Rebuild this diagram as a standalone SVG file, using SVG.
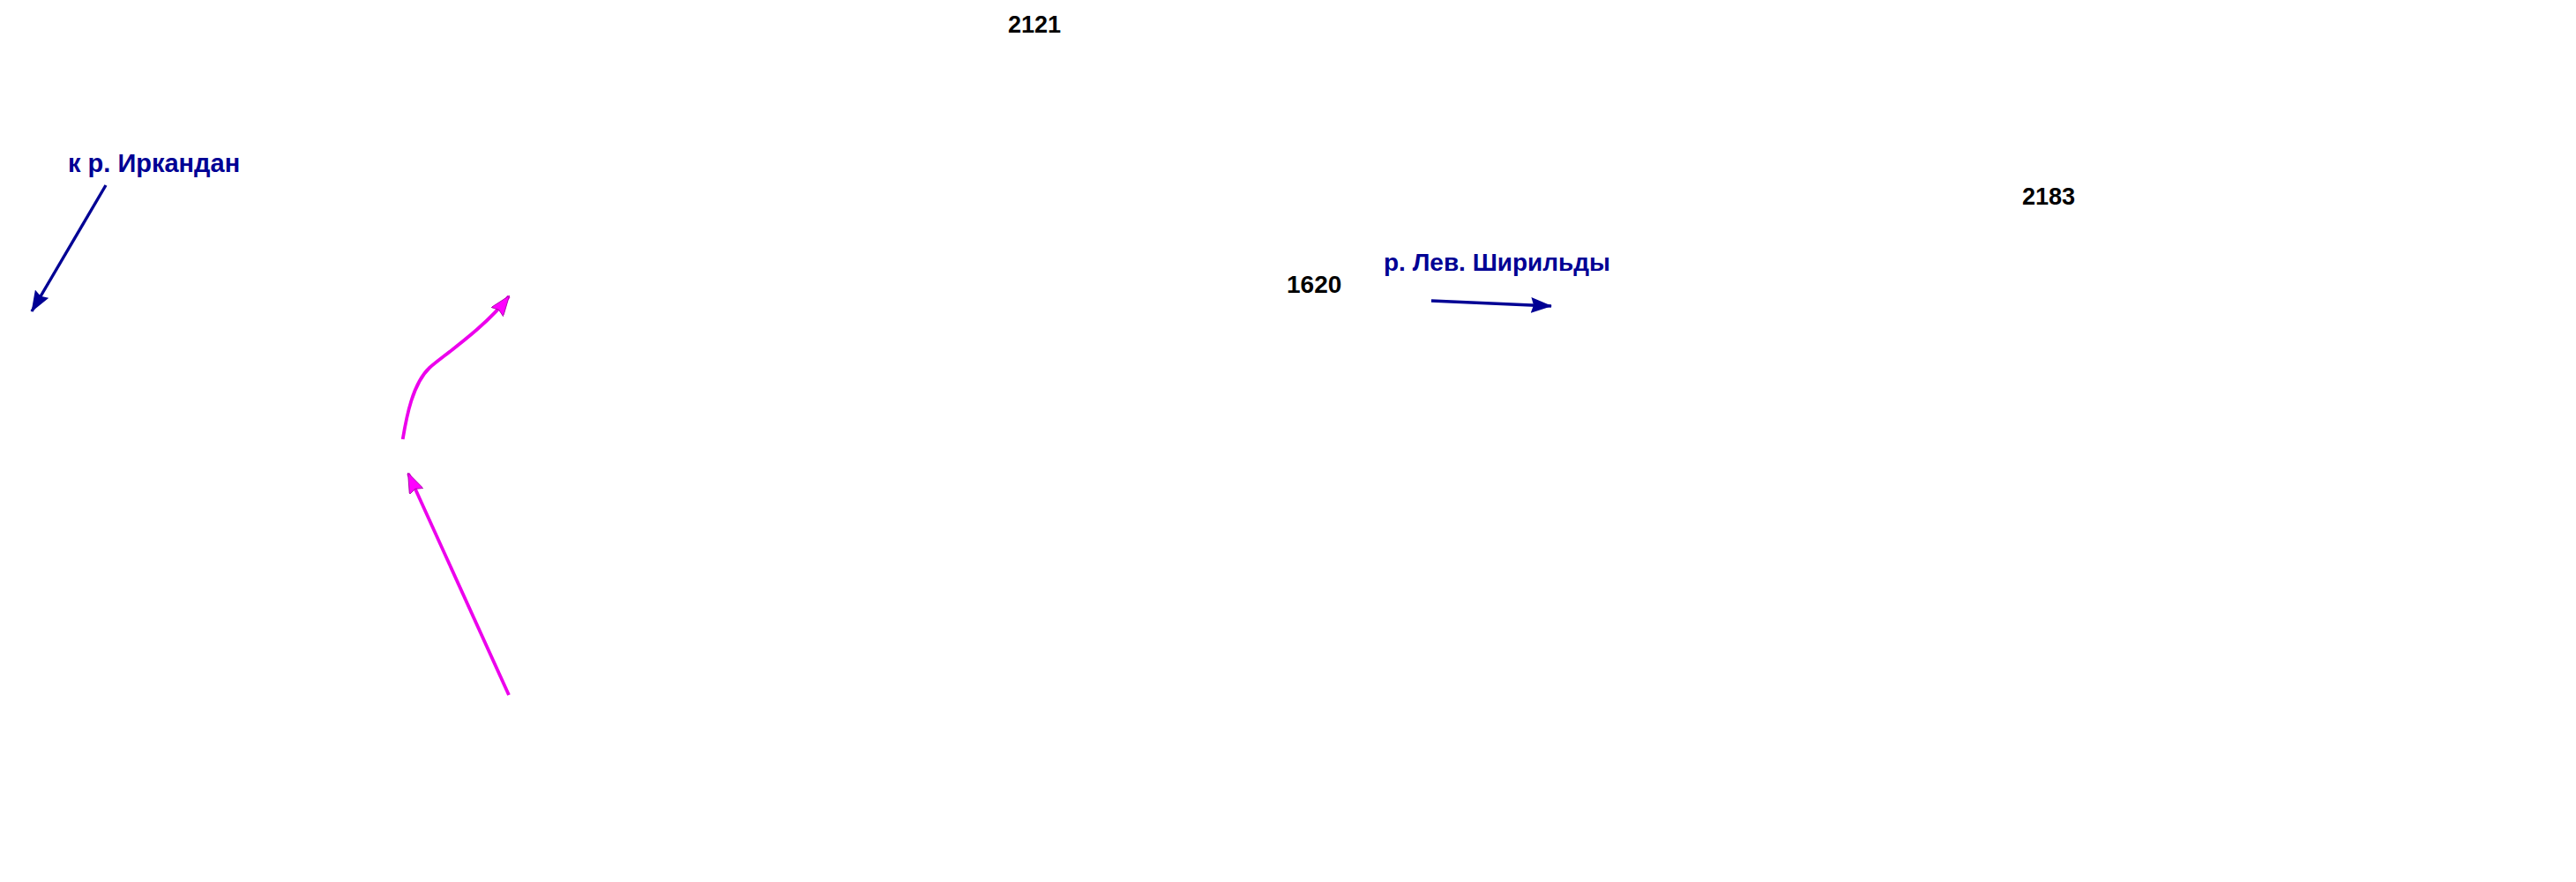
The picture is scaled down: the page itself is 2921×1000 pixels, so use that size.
<svg xmlns="http://www.w3.org/2000/svg" width="2921" height="1000" viewBox="0 0 2921 1000">
  <style>
    .num { font-family: "Liberation Sans", Arial, sans-serif; font-weight: bold; font-size: 27px; fill: #000000; }
    .lbl { font-family: "Liberation Sans", Arial, sans-serif; font-weight: bold; font-size: 28px; fill: #000094; }
    .navy { fill: none; stroke: #000094; stroke-width: 3.4; marker-end: url(#headNavy); }
    .mag { fill: none; stroke: #EC00EC; stroke-width: 3.8; marker-end: url(#headMag); }
  </style>
  <defs>
    <marker id="headNavy" markerUnits="userSpaceOnUse" viewBox="0 0 24 18" refX="23" refY="9" markerWidth="24" markerHeight="18" orient="auto">
      <path d="M0,0 L24,9 L0,18 L3,9 z" fill="#000094"/>
    </marker>
    <marker id="headMag" markerUnits="userSpaceOnUse" viewBox="0 0 23 17" refX="22" refY="8.5" markerWidth="23" markerHeight="17" orient="auto">
      <path d="M0,0 L23,8.5 L0,17 L3,8.5 z" fill="#FF00FF" stroke="#A000A0" stroke-width="0.8"/>
    </marker>
  </defs>
  <rect width="2921" height="1000" fill="#ffffff"/>

  <g id="label-2121"><text class="num" x="1143" y="37">2121</text></g>
  <g id="label-2183"><text class="num" x="2293" y="232">2183</text></g>
  <g id="label-1620"><text class="num" x="1459" y="332" style="font-size:28px">1620</text></g>
  <g id="label-irkandan"><text class="lbl" x="77" y="195" style="font-size:29px">к р. Иркандан</text></g>
  <g id="label-shirildy"><text class="lbl" x="1569" y="307">р. Лев. Ширильды</text></g>

  <g id="connectors">
    <path class="navy" d="M120,210 L36,353"/>
    <path class="navy" d="M1623,341 L1759,347"/>
    <path class="mag" d="M456.7,498 C461,472 468,435 487,417 C500,405 550,372 577,336"/>
    <path class="mag" d="M577,788 L463,537"/>
  </g>
</svg>
